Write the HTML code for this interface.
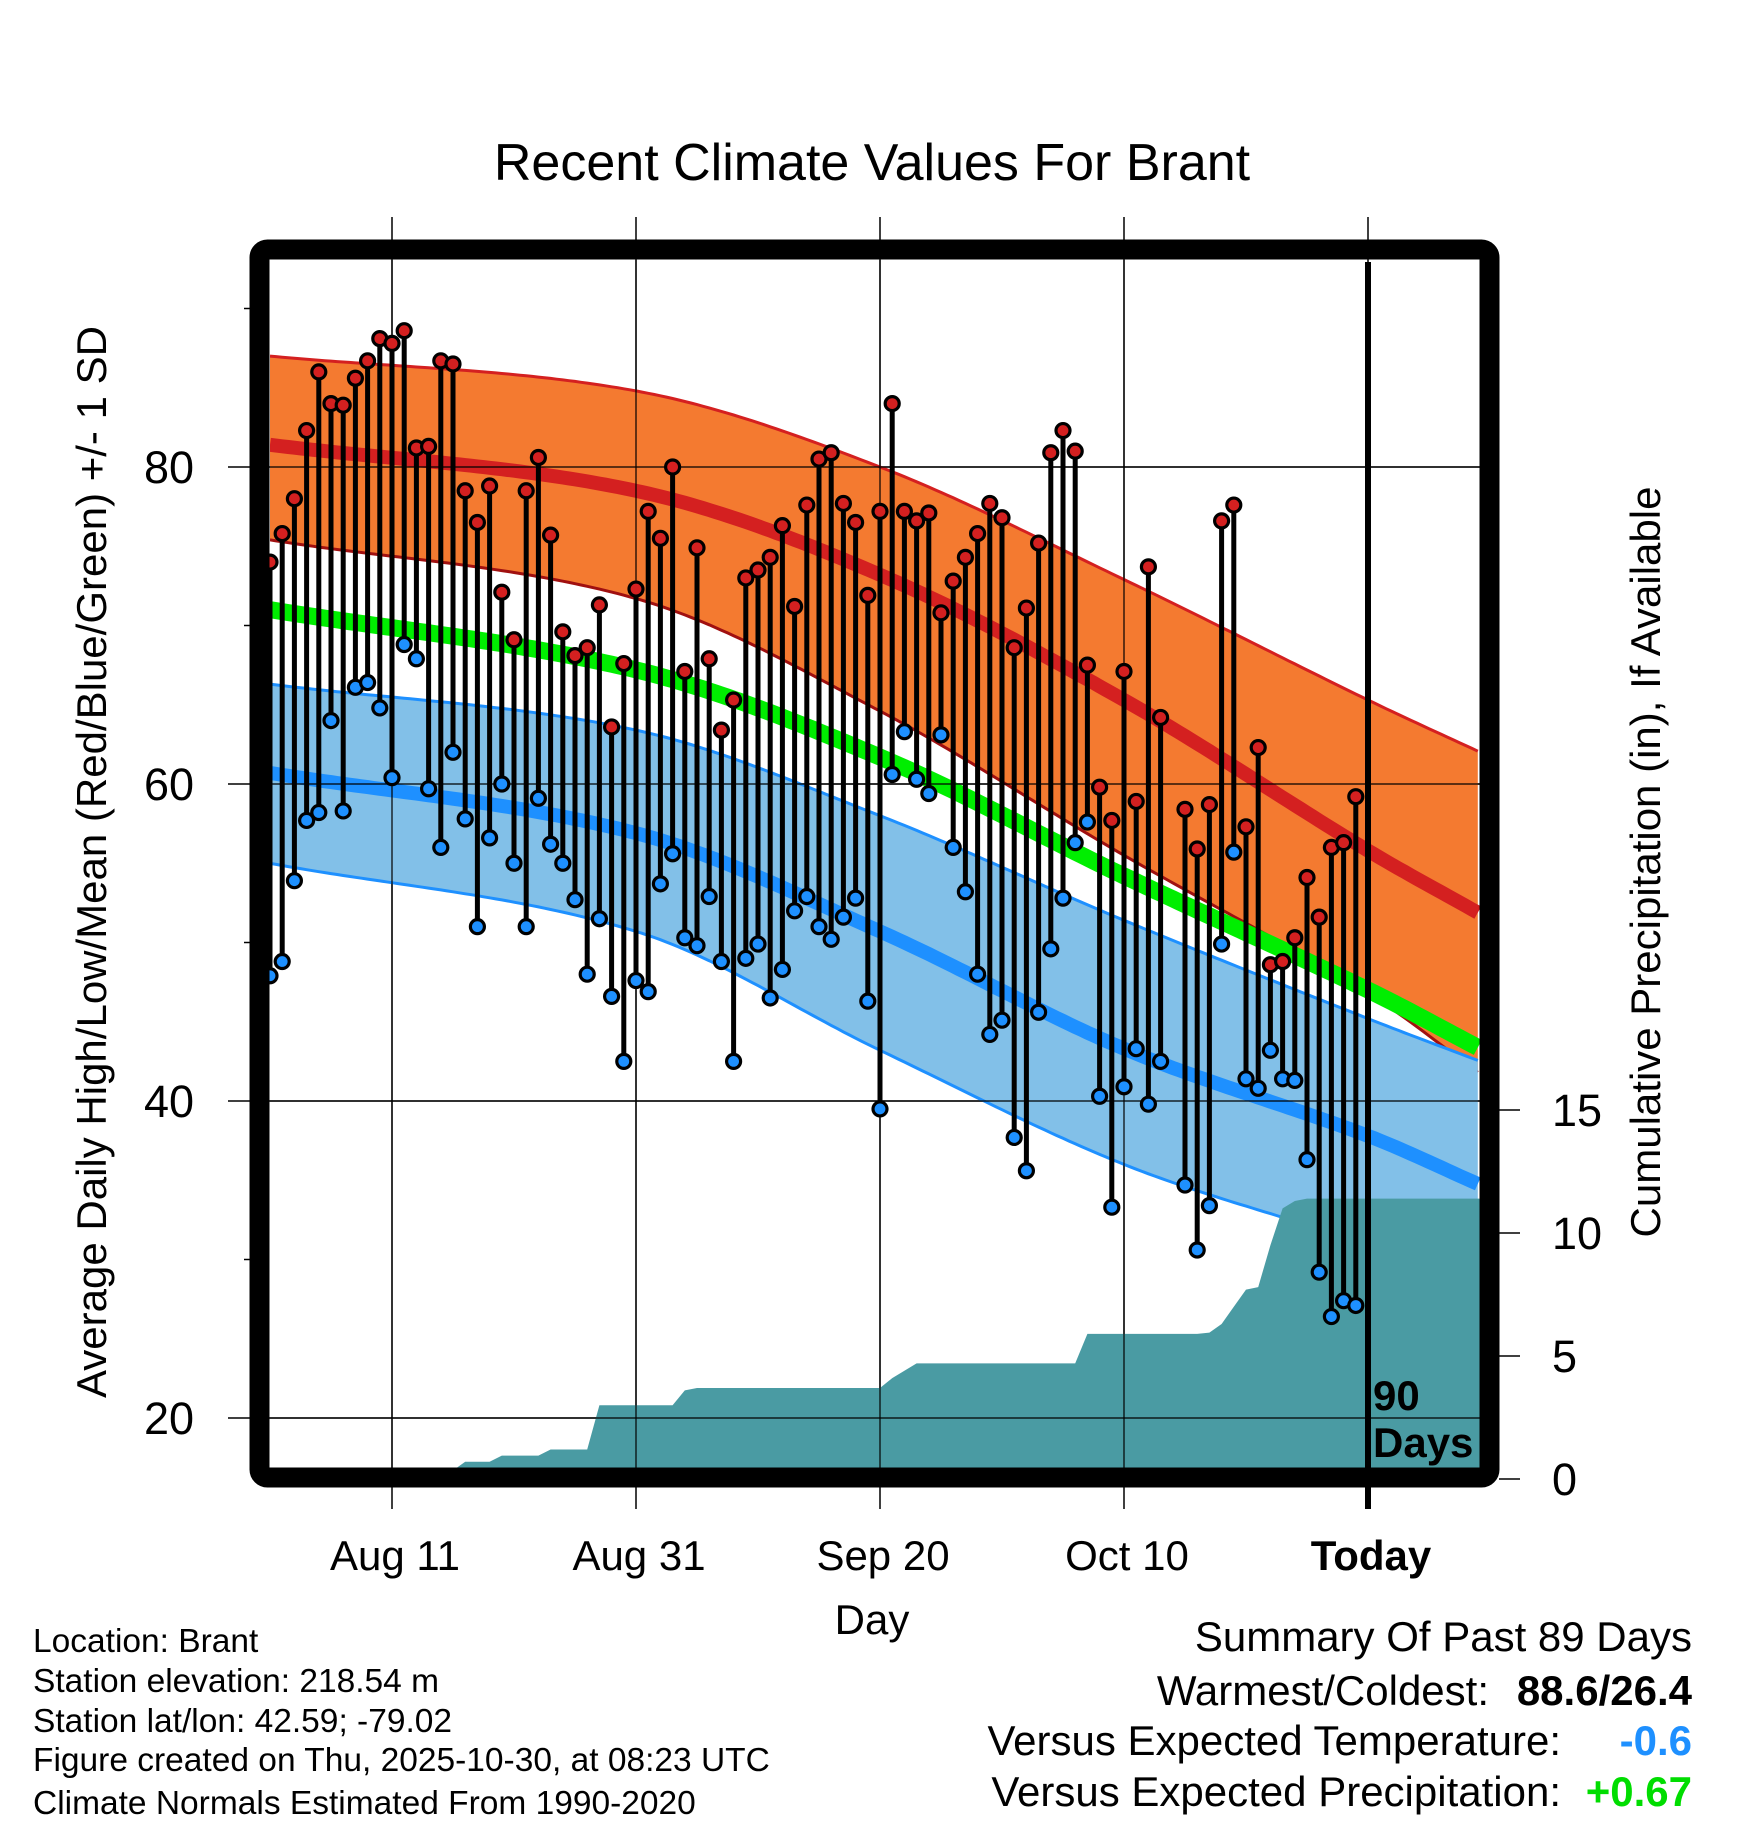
<!DOCTYPE html>
<html><head><meta charset="utf-8"><style>
html,body{margin:0;padding:0;background:#fff;}
svg text{font-family:"Liberation Sans",sans-serif;}
</style></head><body>
<svg id="chart" xmlns="http://www.w3.org/2000/svg" width="1748" height="1828" viewBox="0 0 1748 1828">
<defs><clipPath id="plotclip"><rect x="270" y="260" width="1210" height="1208"/></clipPath></defs>
<text x="872" y="180" font-size="52" text-anchor="middle">Recent Climate Values For Brant</text>
<g id="grid"></g>
<g id="plot" clip-path="url(#plotclip)"></g>
<g id="marks"></g>
<rect x="259.5" y="249.5" width="1230" height="1228" rx="8" fill="none" stroke="#000" stroke-width="20"/>
<g id="axes"></g>
<text x="1373" y="1410" font-size="42" font-weight="bold">90</text>
<text x="1373" y="1457" font-size="42" font-weight="bold">Days</text>
<text transform="translate(106,862) rotate(-90)" font-size="42" text-anchor="middle">Average Daily High/Low/Mean (Red/Blue/Green) +/- 1 SD</text>
<text transform="translate(1660,862) rotate(-90)" font-size="42" text-anchor="middle">Cumulative Precipitation (in), If Available</text>
<text x="872" y="1634" font-size="42" text-anchor="middle">Day</text>
<g font-size="33.5">
<text x="33" y="1652">Location: Brant</text>
<text x="33" y="1692">Station elevation: 218.54 m</text>
<text x="33" y="1732">Station lat/lon: 42.59; -79.02</text>
<text x="33" y="1771">Figure created on Thu, 2025-10-30, at 08:23 UTC</text>
<text x="33" y="1814">Climate Normals Estimated From 1990-2020</text>
</g>
<g font-size="42">
<text x="1692" y="1651" text-anchor="end">Summary Of Past 89 Days</text>
<text x="1489" y="1705" text-anchor="end">Warmest/Coldest:</text>
<text x="1692" y="1705" text-anchor="end" font-weight="bold">88.6/26.4</text>
<text x="1561" y="1755" text-anchor="end">Versus Expected Temperature:</text>
<text x="1692" y="1755" text-anchor="end" font-weight="bold" fill="#1e90ff">-0.6</text>
<text x="1561" y="1806" text-anchor="end">Versus Expected Precipitation:</text>
<text x="1692" y="1806" text-anchor="end" font-weight="bold" fill="#00dd00">+0.67</text>
</g>
</svg>
<script>
const highs=[74.0,75.8,78.0,82.3,86.0,84.0,83.9,85.6,86.7,88.1,87.8,88.6,81.2,81.3,86.7,86.5,78.5,76.5,78.8,72.1,69.1,78.5,80.6,75.7,69.6,68.1,68.6,71.3,63.6,67.6,72.3,77.2,75.5,80.0,67.1,74.9,67.9,63.4,65.3,73.0,73.5,74.3,76.3,71.2,77.6,80.5,80.9,77.7,76.5,71.9,77.2,84.0,77.2,76.6,77.1,70.8,72.8,74.3,75.8,77.7,76.8,68.6,71.1,75.2,80.9,82.3,81.0,67.5,59.8,57.7,67.1,58.9,73.7,64.2,null,58.4,55.9,58.7,76.6,77.6,57.3,62.3,48.6,48.8,50.3,54.1,51.6,56.0,56.3,59.2];
const lows=[47.9,48.8,53.9,57.7,58.2,64.0,58.3,66.1,66.4,64.8,60.4,68.8,67.9,59.7,56.0,62.0,57.8,51.0,56.6,60.0,55.0,51.0,59.1,56.2,55.0,52.7,48.0,51.5,46.6,42.5,47.6,46.9,53.7,55.6,50.3,49.8,52.9,48.8,42.5,49.0,49.9,46.5,48.3,52.0,52.9,51.0,50.2,51.6,52.8,46.3,39.5,60.6,63.3,60.3,59.4,63.1,56.0,53.2,48.0,44.2,45.1,37.7,35.6,45.6,49.6,52.8,56.3,57.6,40.3,33.3,40.9,43.3,39.8,42.5,null,34.7,30.6,33.4,49.9,55.7,41.4,40.8,43.2,41.4,41.3,36.3,29.2,26.4,27.4,27.1];
const precip=[0,0,0,0,0,0,0,0,0,0,0,0,0,0,0,0.35,0.7,0.7,0.7,0.95,0.95,0.95,0.95,1.2,1.2,1.2,1.2,3.0,3.0,3.0,3.0,3.0,3.0,3.0,3.6,3.7,3.7,3.7,3.7,3.7,3.7,3.7,3.7,3.7,3.7,3.7,3.7,3.7,3.7,3.7,3.7,4.1,4.4,4.7,4.7,4.7,4.7,4.7,4.7,4.7,4.7,4.7,4.7,4.7,4.7,4.7,4.7,5.9,5.9,5.9,5.9,5.9,5.9,5.9,5.9,5.9,5.9,5.95,6.3,7.0,7.7,7.8,9.5,11.0,11.3,11.4,11.4,11.4,11.4,11.4];
const normDays=[0,30,50,70,90,99.2];
const hiUpper=[87.0,84.8,80.0,72.9,65.3,62.0];
const hiMean=[81.4,78.5,73.2,65.3,55.8,51.8];
const hiLower=[75.4,71.7,64.6,55.5,46.8,41.7];
const avgMean=[71.0,67.2,61.7,54.2,47.0,43.3];
const loUpper=[66.3,63.4,58.0,51.4,45.2,42.5];
const loMean=[60.7,56.9,50.7,43.3,37.8,34.7];
const loLower=[55.0,50.7,43.2,36.0,30.9,28.0];
const yTicks=[20,40,60,80];
const yMinor=[30,50,70,90];
const pTicks=[0,5,10,15];
const xTickDays=[10,30,50,70,90];
const xTickLabels=["Aug 11","Aug 31","Sep 20","Oct 10","Today"];

const NS="http://www.w3.org/2000/svg";
function X(d){return 270+d*12.2;}
function Y(t){return 467+(80-t)*15.85;}
function P(p){return 1479-p*24.6;}
function mk(tag,attrs,parent){const e=document.createElementNS(NS,tag);for(const k in attrs)e.setAttribute(k,attrs[k]);parent.appendChild(e);return e;}
function interp(xs,ys,d){
  let i=0;while(i<xs.length-2&&d>xs[i+1])i++;
  const p0=ys[Math.max(i-1,0)],p1=ys[i],p2=ys[i+1],p3=ys[Math.min(i+2,ys.length-1)];
  const x0=xs[Math.max(i-1,0)],x1=xs[i],x2=xs[i+1],x3=xs[Math.min(i+2,xs.length-1)];
  const t=(d-x1)/(x2-x1);
  const m1=(p2-p0)/(x2-x0||1)*(x2-x1), m2=(p3-p1)/(x3-x1||1)*(x2-x1);
  const t2=t*t,t3=t2*t;
  return (2*t3-3*t2+1)*p1+(t3-2*t2+t)*m1+(-2*t3+3*t2)*p2+(t3-t2)*m2;
}
function curve(ys){const pts=[];for(let d=0;d<=99.2;d+=0.5)pts.push([X(d),Y(interp(normDays,ys,d))]);return pts;}
function pathOf(pts){return pts.map((p,i)=>(i?'L':'M')+p[0].toFixed(1)+','+p[1].toFixed(1)).join('');}
function band(up,lo){const a=curve(up),b=curve(lo).reverse();return pathOf(a)+pathOf(b).replace('M','L')+'Z';}

const grid=document.getElementById('grid');
const plot=document.getElementById('plot');
const marks=document.getElementById('marks');
const axes=document.getElementById('axes');

xTickDays.forEach(d=>{
  const l=mk('line',{x1:X(d),x2:X(d),y1:217,y2:1509,stroke:'#000','stroke-width':1.5},grid);
  
  
});
yTicks.forEach(t=>{
  const l=mk('line',{x1:228,x2:1480,y1:Y(t),y2:Y(t),stroke:'#000','stroke-width':1.5},grid);
  
  
});
yMinor.forEach(t=>{
  const l=mk('line',{x1:244,x2:260,y1:Y(t),y2:Y(t),stroke:'#000','stroke-width':1.5},grid);
  
  
});

let e;
e=mk('path',{d:band(hiUpper,hiLower),fill:'#f47a30'},plot);


e=mk('path',{d:pathOf(curve(hiUpper)),fill:'none',stroke:'#d42020','stroke-width':3},plot);


e=mk('path',{d:pathOf(curve(hiLower)),fill:'none',stroke:'#a01010','stroke-width':3},plot);


e=mk('path',{d:band(loUpper,loLower),fill:'#82c0e8'},plot);


e=mk('path',{d:pathOf(curve(loUpper)),fill:'none',stroke:'#1e90ff','stroke-width':3},plot);


e=mk('path',{d:pathOf(curve(loLower)),fill:'none',stroke:'#1e90ff','stroke-width':3},plot);


e=mk('path',{d:pathOf(curve(avgMean)),fill:'none',stroke:'#00ee00','stroke-width':17},plot);


e=mk('path',{d:pathOf(curve(hiMean)),fill:'none',stroke:'#d42020','stroke-width':14},plot);


e=mk('path',{d:pathOf(curve(loMean)),fill:'none',stroke:'#1e90ff','stroke-width':14},plot);



let pd='M'+X(0)+','+P(0);
precip.forEach((v,i)=>{pd+='L'+X(i).toFixed(1)+','+P(v).toFixed(1);});
pd+='L'+X(99.3)+','+P(precip[precip.length-1]).toFixed(1)+'L'+X(99.3)+','+P(0)+'Z';
e=mk('path',{d:pd,fill:'#4a9ba3'},plot);



yTicks.forEach(t=>{
  const l=mk('line',{x1:270,x2:1480,y1:Y(t),y2:Y(t),stroke:'#000','stroke-width':1.2},plot);
  
  
});
xTickDays.slice(0,4).forEach(d=>{
  const l=mk('line',{x1:X(d),x2:X(d),y1:260,y2:1468,stroke:'#000','stroke-width':1.2},plot);
  
  
});

highs.forEach((h,i)=>{
  const lo=lows[i]; if(h==null||lo==null)return;
  const s=mk('line',{x1:X(i),x2:X(i),y1:Y(h),y2:Y(lo),stroke:'#000','stroke-width':5},marks);
  
  
});
highs.forEach((h,i)=>{
  if(h==null)return;
  const c=mk('circle',{cx:X(i),cy:Y(h),r:7,fill:'#d42020',stroke:'#000','stroke-width':3.2},marks);
  
  
});
lows.forEach((v,i)=>{
  if(v==null)return;
  const c=mk('circle',{cx:X(i),cy:Y(v),r:7,fill:'#1e90ff',stroke:'#000','stroke-width':3.2},marks);
  
  
});
e=mk('line',{x1:X(90),x2:X(90),y1:262,y2:1509,stroke:'#000','stroke-width':6},marks);



yTicks.forEach(t=>{
  const tx=mk('text',{x:194,y:Y(t)+16,'font-size':45,'text-anchor':'end'},axes);
  tx.textContent=t;
  
  
});
pTicks.forEach(p=>{
  const l=mk('line',{x1:1499,x2:1520,y1:P(p),y2:P(p),stroke:'#000','stroke-width':1.5},axes);
  
  
  const tx=mk('text',{x:1552,y:P(p)+16,'font-size':45},axes);
  tx.textContent=p;
  
  
});
xTickDays.forEach((d,i)=>{
  const tx=mk('text',{x:X(d)+3,y:1570,'font-size':42,'text-anchor':'middle'},axes);
  if(i===4)tx.setAttribute('font-weight','bold');
  tx.textContent=xTickLabels[i];
  
  
});
</script>
</body></html>
